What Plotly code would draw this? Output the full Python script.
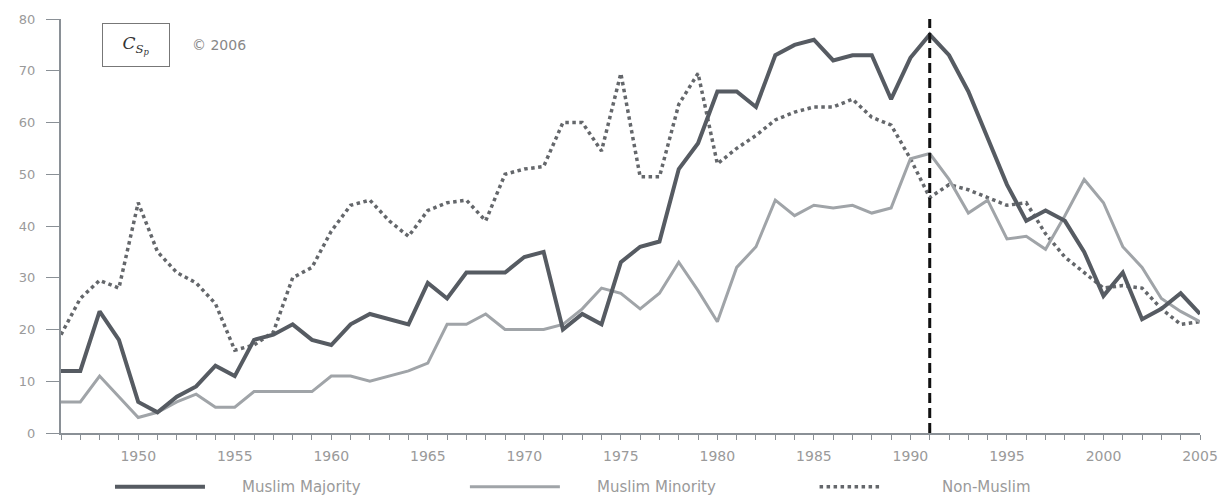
import plotly.graph_objects as go

# Years covered by the series
years = list(range(1946, 2006))

muslim_majority = [
    12, 12, 23.5, 18, 6, 4, 7, 9, 13, 11,
    18, 19, 21, 18, 17, 21, 23, 22, 21, 29,
    26, 31, 31, 31, 34, 35, 20, 23, 21, 33,
    36, 37, 51, 56, 66, 66, 63, 73, 75, 76,
    72, 73, 73, 64.5, 72.5, 77, 73, 66, 57, 48,
    41, 43, 41, 35, 26.5, 31, 22, 24, 27, 23,
]

muslim_minority = [
    6, 6, 11, 7, 3, 4, 6, 7.5, 5, 5,
    8, 8, 8, 8, 11, 11, 10, 11, 12, 13.5,
    21, 21, 23, 20, 20, 20, 21, 24, 28, 27,
    24, 27, 33, 27.5, 21.5, 32, 36, 45, 42, 44,
    43.5, 44, 42.5, 43.5, 53, 54, 49, 42.5, 45, 37.5,
    38, 35.5, 42, 49, 44.5, 36, 32, 26, 23.5, 21.5,
]

non_muslim = [
    19, 26, 29.5, 28, 44.5, 35, 31, 29, 25, 16,
    17, 19.5, 30, 32, 39, 44, 45, 41, 38, 43,
    44.5, 45, 41, 50, 51, 51.5, 60, 60, 54.5, 69.5,
    49.5, 49.5, 63.5, 69.5, 52, 55, 57.5, 60.5, 62, 63,
    63, 64.5, 61, 59.5, 53, 45.5, 48, 47, 45.5, 44,
    44.5, 38.5, 34, 31, 28, 28.5, 28, 24, 21, 21.5,
]

series_names = ["Muslim Majority", "Muslim Minority", "Non-Muslim"]
marker_year = 1991
y_ticks = [0, 10, 20, 30, 40, 50, 60, 70, 80]
x_label_years = [1950, 1955, 1960, 1965, 1970, 1975, 1980, 1985, 1990, 1995, 2000, 2005]
x_tick_labels = [str(y) for y in x_label_years]

AXIS_GREY = "#8a9096"
TEXT_GREY = "#9a9a9a"
FONT = "DejaVu Sans"

styles = [
    dict(color="#565b62", width=4, dash="solid"),
    dict(color="#a0a4a8", width=3, dash="solid"),
    dict(color="#64676b", width=3.5, dash="dot"),
]

fig = go.Figure()
# Non-Muslim first so the solid lines sit on top of it
order = [2, 1, 0]
all_vals = [muslim_majority, muslim_minority, non_muslim]
for i in order:
    st = styles[i]
    fig.add_trace(go.Scatter(
        x=years, y=all_vals[i], name=series_names[i], mode="lines",
        line=dict(color=st["color"], width=st["width"], dash=st["dash"]),
        showlegend=False,
    ))

# Vertical marker at 1991
fig.add_shape(type="line", xref="x", yref="paper", x0=marker_year, x1=marker_year,
              y0=0, y1=1, line=dict(color="#111111", width=3, dash="10px,5px"), layer="above")

# Legend drawn below the axis
legend_y = -0.13
legend_items = [
    (series_names[0], 0.0474, 0.1264, 0.157, styles[0]),
    (series_names[1], 0.359, 0.438, 0.469, styles[1]),
    (series_names[2], 0.666, 0.721, 0.772, styles[2]),
]
for label, x0, x1, xt, st in legend_items:
    fig.add_shape(type="line", xref="paper", yref="paper", x0=x0, x1=x1,
                  y0=legend_y, y1=legend_y,
                  line=dict(color=st["color"], width=st["width"], dash=st["dash"]))
    fig.add_annotation(xref="paper", yref="paper", x=xt, y=legend_y, text=label,
                       showarrow=False, xanchor="left", yanchor="middle",
                       font=dict(family=FONT, size=15, color=TEXT_GREY))

# Boxed label and year stamp at the top left
fig.add_annotation(xref="paper", yref="paper", x=0.066, y=0.9375,
                   text="<i>C<sub>S<sub>p</sub></sub></i>", showarrow=False,
                   xanchor="center", yanchor="middle",
                   font=dict(family="DejaVu Serif", size=17, color="#333333"),
                   bordercolor="#777777", borderwidth=1, borderpad=8,
                   width=50, height=26, bgcolor="white")
fig.add_annotation(xref="paper", yref="paper", x=0.113, y=0.9375,
                   text="© 2006", showarrow=False, xanchor="left", yanchor="middle",
                   font=dict(family=FONT, size=14, color="#888888"))

fig.update_layout(
    width=1230, height=498,
    margin=dict(l=61, r=30, t=17, b=65),
    paper_bgcolor="white", plot_bgcolor="white",
    font=dict(family=FONT, size=13, color=TEXT_GREY),
)
fig.update_xaxes(
    range=[1946, 2005], tickmode="array", tickvals=x_label_years, ticktext=x_tick_labels,
    ticks="outside", ticklen=5, tickwidth=1, tickcolor=AXIS_GREY,
    minor=dict(tickmode="linear", tick0=1946, dtick=1, ticks="outside",
               ticklen=5, tickwidth=1, tickcolor=AXIS_GREY, showgrid=False),
    showline=True, linecolor=AXIS_GREY, linewidth=1.5,
    showgrid=False, zeroline=False, tickangle=0, ticklabelstandoff=4,
    tickfont=dict(family=FONT, size=14, color=TEXT_GREY),
)
fig.update_yaxes(
    range=[0, 80], tickmode="array", tickvals=y_ticks,
    ticks="outside", ticklen=13, tickwidth=1, tickcolor=AXIS_GREY,
    showline=True, linecolor=AXIS_GREY, linewidth=2,
    showgrid=False, zeroline=False, ticklabelstandoff=8,
    tickfont=dict(family=FONT, size=13, color=TEXT_GREY),
)

fig.write_html("out.html")
